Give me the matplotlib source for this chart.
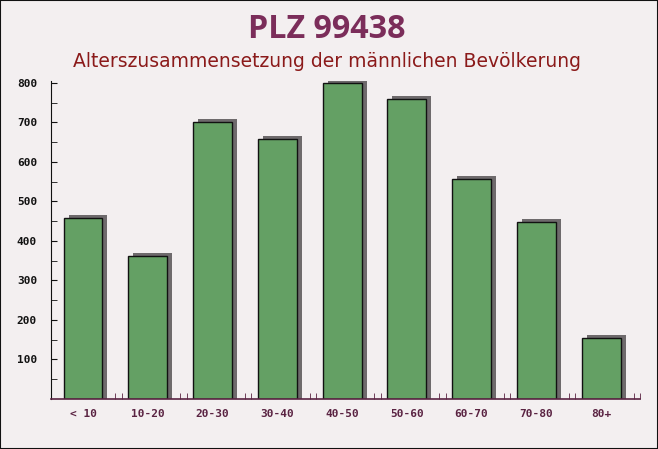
import matplotlib
matplotlib.use("Agg")
import matplotlib.pyplot as plt
import matplotlib.transforms as mtransforms
import numpy as np

categories = ["< 10", "10-20", "20-30", "30-40", "40-50", "50-60", "60-70", "70-80", "80+"]
values = [457, 361, 702, 659, 800, 760, 558, 447, 154]
yticks = [100, 200, 300, 400, 500, 600, 700, 800]

title = "PLZ 99438"
subtitle = "Alterszusammensetzung der männlichen Bevölkerung"

W, H = 658, 449
fig = plt.figure(figsize=(W / 100, H / 100), dpi=100)
fig.patch.set_facecolor("#f3eff0")

ax = fig.add_axes([51 / W, 1 - 399 / H, (640 - 51) / W, (399 - 81) / H])
ax.set_facecolor("none")

x = np.arange(len(categories))
shadow_tr = ax.transData + mtransforms.ScaledTranslation(5 / 100, 3 / 100, fig.dpi_scale_trans)
ax.bar(x, np.array(values) + 12, bottom=-12, width=0.6, color="#6e6a6c", edgecolor="none",
       transform=shadow_tr, zorder=2)
ax.bar(x, values, width=0.6, color="#64a064", edgecolor="#111111", linewidth=1.0, zorder=3)

ax.set_xlim(-0.495, 8.5)
ax.set_ylim(0, 805)

ax.spines["top"].set_visible(False)
ax.spines["right"].set_visible(False)
ax.spines["left"].set_color("#111111")
ax.spines["bottom"].set_color("#5a2342")
ax.spines["bottom"].set_linewidth(1.2)
ax.spines["bottom"].set_zorder(4)

ax.set_yticks(yticks)
ax.set_yticks(np.arange(50, 800, 100), minor=True)
ax.tick_params(axis="y", which="both", direction="in", length=4, color="#111111", pad=10)
for lab in ax.get_yticklabels():
    lab.set_fontfamily("DejaVu Sans Mono")
    lab.set_fontweight("bold")
    lab.set_fontsize(8)
    lab.set_color("#111111")

ax.set_xticks(x)
ax.set_xticklabels(categories)
ax.tick_params(axis="x", which="major", length=0, pad=7)
ax.set_xticks(np.concatenate([x + 0.5, x + 0.6]), minor=True)
ax.tick_params(axis="x", which="minor", direction="in", length=4, color="#5a2342")
for lab in ax.get_xticklabels():
    lab.set_fontfamily("DejaVu Sans Mono")
    lab.set_fontweight("bold")
    lab.set_fontsize(8)
    lab.set_color("#5a2342")

t1 = fig.text(327 / W, 1 - 38 / H, title, ha="center", va="baseline", fontsize=17,
              fontweight="bold", color="#7b2d5a", family="Open Sans")
t2 = fig.text(327 / W, 1 - 67 / H, subtitle, ha="center", va="baseline", fontsize=13,
              color="#8b1a1a", family="DejaVu Sans")

# fit text widths to the reference
renderer = fig.canvas.get_renderer()
for t, target in ((t1, 158), (t2, 508)):
    w = t.get_window_extent(renderer).width
    t.set_fontsize(t.get_fontsize() * target / w)

border = plt.Rectangle((0, 0), 1, 1, transform=fig.transFigure, fill=False,
                       edgecolor="#111111", linewidth=1.5)
fig.patches.append(border)

fig.savefig("out.png", dpi=100, facecolor=fig.get_facecolor())
